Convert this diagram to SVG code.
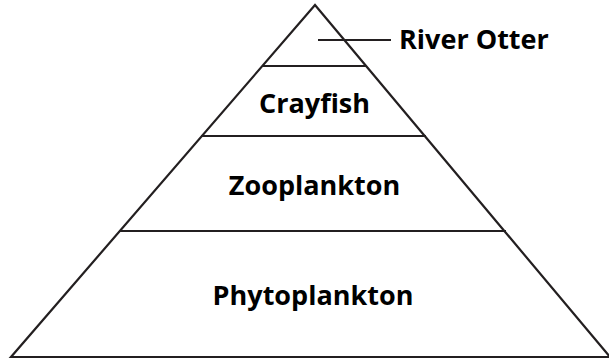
<svg xmlns="http://www.w3.org/2000/svg" width="609" height="359" viewBox="0 0 609 359">
<style>
.ln{stroke:#231f20;stroke-width:2.2;fill:none;stroke-linejoin:miter}
.lb{font-family:"Open Sans","Liberation Sans",sans-serif;font-weight:bold;font-size:27px;fill:#000}
</style>
<rect width="609" height="359" fill="#fff"/>
<g id="pyramid">
<path class="ln" d="M315,5 L11,357 L610,357 Z"/>
</g>
<g id="connectors">
<line class="ln" x1="262" y1="66" x2="366" y2="66"/>
<line class="ln" x1="201" y1="136" x2="426" y2="136"/>
<line class="ln" x1="119" y1="231" x2="506" y2="231"/>
<line class="ln" x1="318" y1="40" x2="391" y2="40"/>
</g>
<g id="river-otter"><text class="lb" x="399" y="48.5">River Otter</text></g>
<g id="crayfish"><text class="lb" x="314.5" y="112.5" text-anchor="middle">Crayfish</text></g>
<g id="zooplankton"><text class="lb" x="314.5" y="195" text-anchor="middle">Zooplankton</text></g>
<g id="phytoplankton"><text class="lb" x="313" y="305" text-anchor="middle">Phytoplankton</text></g>
</svg>
